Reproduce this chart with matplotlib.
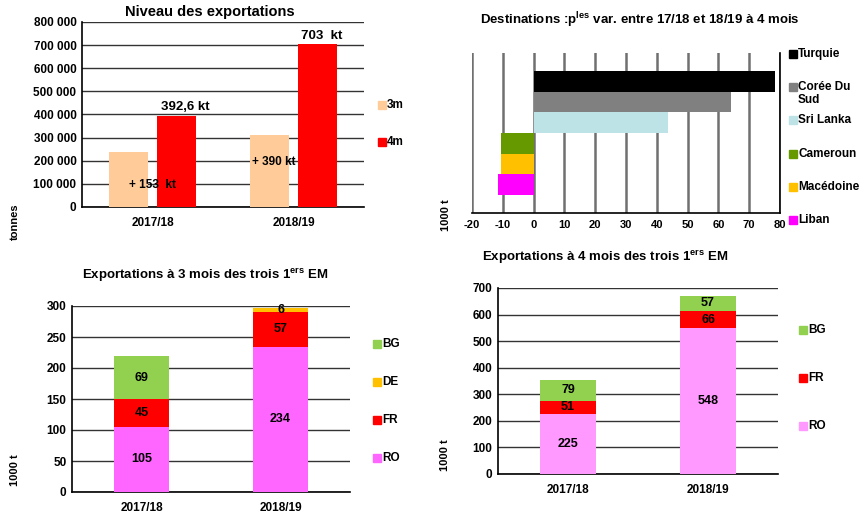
import matplotlib

matplotlib.use("Agg")
import matplotlib.pyplot as plt
from matplotlib.patches import Rectangle

plt.rcParams["font.family"] = ["Liberation Sans", "DejaVu Sans"]
plt.rcParams["font.weight"] = "bold"
plt.rcParams["axes.unicode_minus"] = False
plt.rcParams["mathtext.fontset"] = "custom"
plt.rcParams["mathtext.rm"] = "Liberation Sans:bold"
plt.rcParams["mathtext.bf"] = "Liberation Sans:bold"

W, H = 863, 517

# --- données
campagnes = ["2017/18", "2018/19"]
niveau_3m = [237000, 310000]
niveau_4m = [392600, 703000]

destinations = ["Turquie", "Corée Du\nSud", "Sri Lanka", "Cameroun", "Macédoine", "Liban"]
variations = [78.5, 64, 43.5, -10.5, -10.7, -11.6]
dest_colors = ["#000000", "#808080", "#BDE3E6", "#669900", "#FFC000", "#FF00FF"]

em3_series = ["RO", "FR", "DE", "BG"]
em3_values = {"RO": [105, 234], "FR": [45, 57], "DE": [0, 6], "BG": [69, 0]}
em3_colors = {"RO": "#FF66FF", "FR": "#FF0000", "DE": "#FFC000", "BG": "#92D050"}

em4_series = ["RO", "FR", "BG"]
em4_values = {"RO": [225, 548], "FR": [51, 66], "BG": [79, 57]}
em4_colors = {"RO": "#FF99FF", "FR": "#FF0000", "BG": "#92D050"}

GRID = "#333333"


def px_axes(fig, x0, y0, x1, y1):
    """axes à partir de coordonnées pixel (haut-gauche / bas-droite)"""
    return fig.add_axes([x0 / W, 1 - y1 / H, (x1 - x0) / W, (y1 - y0) / H])


def side_legend(fig, x, y0, step, names, colors):
    # y = centre du carré = milieu de la première ligne du texte
    for i, (n, c) in enumerate(zip(names, colors)):
        y = y0 + i * step
        fig.patches.append(Rectangle((x / W, 1 - (y + 4) / H), 8 / W, 8 / H,
                                     transform=fig.transFigure, color=c))
        fig.text((x + 9) / W, 1 - (y - 6) / H, n, fontsize=8.5, va="top", ha="left",
                 linespacing=1.05)


def style(ax):
    for s in ("top", "right"):
        ax.spines[s].set_visible(False)
    ax.spines["left"].set_linewidth(1.2)
    ax.spines["bottom"].set_linewidth(1.2)
    ax.tick_params(length=0, labelsize=8.5, pad=4)


fig = plt.figure(figsize=(W / 100, H / 100), dpi=100)

# --- niveau des exportations
ax1 = px_axes(fig, 82, 22, 364, 207)
x = range(len(campagnes))
ax1.bar([i - 0.17 for i in x], niveau_3m, width=0.27, color="#FFCC99", zorder=3)
ax1.bar([i + 0.17 for i in x], niveau_4m, width=0.27, color="#FF0000", zorder=3)
ax1.set_xlim(-0.5, 1.5)
ax1.set_ylim(0, 800000)
ax1.set_yticks(range(0, 800001, 100000))
ax1.set_yticklabels([f"{v:,}".replace(",", " ") if v else "0" for v in range(0, 800001, 100000)])
ax1.set_xticks(list(x))
ax1.set_xticklabels(campagnes, fontsize=9)
ax1.yaxis.grid(True, color=GRID, lw=1)
ax1.set_axisbelow(True)
style(ax1)
ax1.tick_params(axis="x", pad=7)
fig.text(210 / W, 1 - 12 / H, "Niveau des exportations", fontsize=10.5, ha="center", va="center")
ax1.text(0.0, 95000, "+ 153  kt", ha="center", va="center", fontsize=8.5, zorder=4)
ax1.text(0.86, 195000, "+ 390 kt", ha="center", va="center", fontsize=8.5, zorder=4)
ax1.text(0.23, 432000, "392,6 kt", ha="center", va="center", fontsize=9.5, zorder=4)
ax1.text(1.2, 740000, "703  kt", ha="center", va="center", fontsize=9.5, zorder=4)
fig.text(15 / W, 1 - 222 / H, "tonnes", rotation=90, fontsize=8, ha="center", va="center")
side_legend(fig, 378, 105, 37, ["3m", "4m"], ["#FFCC99", "#FF0000"])

# --- destinations
ax2 = px_axes(fig, 472, 53, 780, 213)
pos = list(range(len(destinations)))
ax2.barh(pos, variations, height=1.0, color=dest_colors, zorder=3)
ax2.set_ylim(6.37, -1.37)
ax2.set_xlim(-20, 80)
ax2.set_xticks(range(-20, 81, 10))
ax2.set_yticks([])
ax2.xaxis.grid(True, color="#707070", lw=1.8)
ax2.set_axisbelow(True)
style(ax2)
ax2.spines["left"].set_visible(False)
ax2.spines["right"].set_visible(True)
ax2.spines["right"].set_linewidth(1.2)
ax2.tick_params(axis="x", labelsize=8, pad=5)
fig.text(640 / W, 1 - 20 / H, r"Destinations :p$^{\mathrm{les}}$ var. entre 17/18 et 18/19 à 4 mois",
         fontsize=9.5, ha="center", va="center")
fig.text(446 / W, 1 - 215 / H, "1000 t", rotation=90, fontsize=8, ha="center", va="center")
side_legend(fig, 789, 54, 33.2, destinations, dest_colors)


def stacked(ax, series, values, colors, ymax, step):
    bottom = [0, 0]
    for s in series:
        v = values[s]
        ax.bar(range(len(campagnes)), v, bottom=bottom, width=0.4, color=colors[s], zorder=3)
        for i, val in enumerate(v):
            if val:
                ax.text(i, bottom[i] + val / 2, str(val), ha="center", va="center",
                        fontsize=9, zorder=4)
        bottom = [b + val for b, val in zip(bottom, v)]
    ax.set_xlim(-0.5, 1.5)
    ax.set_ylim(0, ymax)
    ax.set_yticks(range(0, ymax + 1, step))
    ax.set_xticks(range(len(campagnes)))
    ax.set_xticklabels(campagnes, fontsize=9)
    ax.yaxis.grid(True, color=GRID, lw=1)
    ax.set_axisbelow(True)
    style(ax)
    ax.tick_params(axis="x", pad=7)


# --- 3 mois
ax3 = px_axes(fig, 72, 306, 350, 492)
stacked(ax3, em3_series, em3_values, em3_colors, 300, 50)
fig.text(205 / W, 1 - 275 / H, r"Exportations à 3 mois des trois 1$^{\mathrm{ers}}$ EM",
         fontsize=9.5, ha="center", va="center")
fig.text(15 / W, 1 - 470 / H, "1000 t", rotation=90, fontsize=8, ha="center", va="center")
leg3 = em3_series[::-1]
side_legend(fig, 373, 344, 38, leg3, [em3_colors[s] for s in leg3])

# --- 4 mois
ax4 = px_axes(fig, 498, 288, 778, 474)
stacked(ax4, em4_series, em4_values, em4_colors, 700, 100)
fig.text(605 / W, 1 - 257 / H, r"Exportations à 4 mois des trois 1$^{\mathrm{ers}}$ EM",
         fontsize=9.5, ha="center", va="center")
fig.text(445 / W, 1 - 455 / H, "1000 t", rotation=90, fontsize=8, ha="center", va="center")
leg4 = em4_series[::-1]
side_legend(fig, 799, 330, 48, leg4, [em4_colors[s] for s in leg4])

fig.savefig("out.png", dpi=100)
